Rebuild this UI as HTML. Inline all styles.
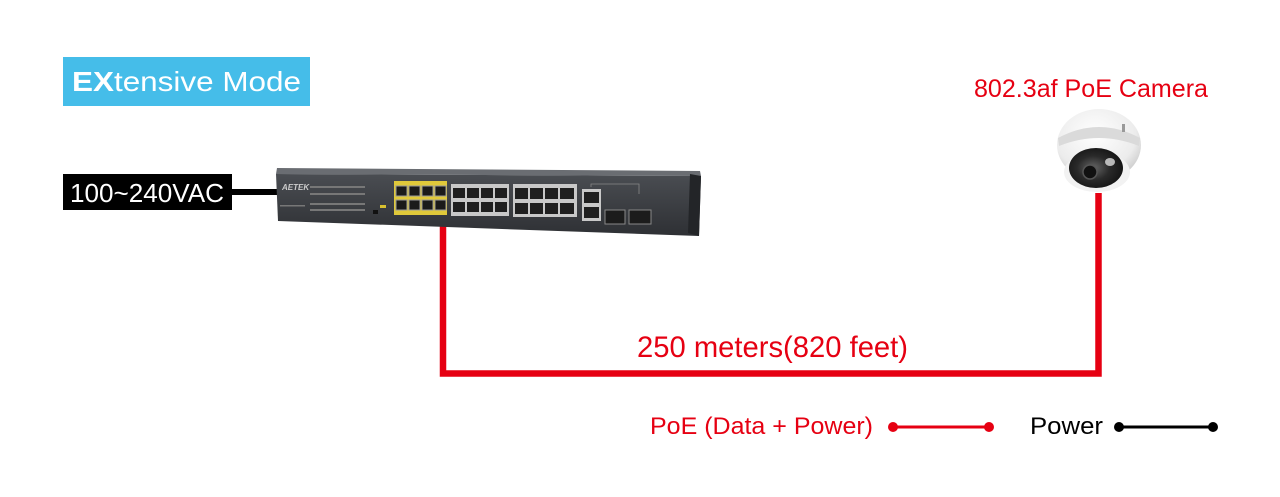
<!DOCTYPE html>
<html><head><meta charset="utf-8"><style>
html,body{margin:0;padding:0;background:#fff;}
svg{display:block;}
text{font-family:"Liberation Sans",Arial,sans-serif;}
</style></head><body>
<svg width="1280" height="497" viewBox="0 0 1280 497" xmlns="http://www.w3.org/2000/svg">
<defs>
<linearGradient id="sw" x1="0" y1="0" x2="0" y2="1">
<stop offset="0" stop-color="#4a4d52"/><stop offset="1" stop-color="#2e3034"/>
</linearGradient>
<radialGradient id="dome" cx="0.45" cy="0.35" r="0.7">
<stop offset="0" stop-color="#ffffff"/><stop offset="0.7" stop-color="#ececec"/><stop offset="1" stop-color="#c4c4c4"/>
</radialGradient>
<radialGradient id="lens" cx="0.45" cy="0.5" r="0.6">
<stop offset="0" stop-color="#666"/><stop offset="0.5" stop-color="#2a2a2a"/><stop offset="1" stop-color="#111"/>
</radialGradient>
</defs>

<rect x="63" y="57" width="247" height="49" fill="#45bde9"/>
<text x="72" y="91" font-size="28" fill="#fff" textLength="229" lengthAdjust="spacingAndGlyphs"><tspan font-weight="bold">EX</tspan>tensive Mode</text>

<rect x="63" y="174" width="169" height="36" fill="#000"/>
<text x="70" y="202" font-size="26" fill="#fff" textLength="154" lengthAdjust="spacingAndGlyphs">100~240VAC</text>
<rect x="231" y="189" width="48" height="6" fill="#000"/>

<path d="M443 222 V373.5 H1098.5 V193" fill="none" stroke="#e60012" stroke-width="6.5"/>

<polygon points="277,168 700,171 701,176 276,174" fill="#6a6d72"/>
<polygon points="276,174 701,176 699,236 278,221" fill="url(#sw)"/>
<polygon points="690,174 701,176 699,236 688,233" fill="#232528"/>
<text x="282" y="190" font-size="8" fill="#ccc" font-style="italic" font-weight="bold">AETEK</text>
<g fill="#777">
<rect x="310" y="186" width="55" height="2"/><rect x="310" y="193" width="55" height="2"/>
<rect x="310" y="203" width="55" height="2"/><rect x="310" y="209" width="55" height="2"/>
<rect x="280" y="205" width="25" height="1.5"/>
</g>
<rect x="380" y="205" width="6" height="3" fill="#d8c030"/>
<rect x="373" y="210" width="5" height="4" fill="#111"/>
<rect x="394" y="181" width="53" height="34" fill="#e0c93a"/>
<g fill="#1a1a1a" stroke="#999" stroke-width="1">
<rect x="396" y="186" width="11" height="10"/><rect x="409" y="186" width="11" height="10"/><rect x="422" y="186" width="11" height="10"/><rect x="435" y="186" width="11" height="10"/>
<rect x="396" y="200" width="11" height="10"/><rect x="409" y="200" width="11" height="10"/><rect x="422" y="200" width="11" height="10"/><rect x="435" y="200" width="11" height="10"/>
</g>
<rect x="451" y="184" width="58" height="32" fill="#c8c8c8"/>
<rect x="513" y="184" width="64" height="33" fill="#c8c8c8"/>
<g fill="#1f1f1f">
<rect x="453" y="188" width="12" height="10"/><rect x="467" y="188" width="12" height="10"/><rect x="481" y="188" width="12" height="10"/><rect x="495" y="188" width="12" height="10"/>
<rect x="453" y="202" width="12" height="10"/><rect x="467" y="202" width="12" height="10"/><rect x="481" y="202" width="12" height="10"/><rect x="495" y="202" width="12" height="10"/>
<rect x="515" y="188" width="13" height="11"/><rect x="530" y="188" width="13" height="11"/><rect x="545" y="188" width="13" height="11"/><rect x="560" y="188" width="14" height="11"/>
<rect x="515" y="203" width="13" height="11"/><rect x="530" y="203" width="13" height="11"/><rect x="545" y="203" width="13" height="11"/><rect x="560" y="203" width="14" height="11"/>
</g>
<rect x="582" y="189" width="19" height="32" fill="#c8c8c8"/>
<rect x="584" y="192" width="15" height="11" fill="#1f1f1f"/><rect x="584" y="207" width="15" height="11" fill="#1f1f1f"/>
<rect x="605" y="210" width="20" height="14" fill="#1c1c1c" stroke="#888" stroke-width="1"/>
<rect x="629" y="210" width="22" height="14" fill="#1c1c1c" stroke="#888" stroke-width="1"/>
<path d="M591 187 V184 H639 V194" fill="none" stroke="#888" stroke-width="0.8"/>

<!-- Camera -->
<ellipse cx="1099" cy="145" rx="42" ry="36" fill="url(#dome)"/>
<ellipse cx="1097" cy="172" rx="33" ry="20" fill="#f2f2f2"/>
<path d="M1058 138 Q1099 116 1140 138 L1139 146 Q1099 130 1059 146 Z" fill="#dadada"/>
<ellipse cx="1096" cy="168" rx="27" ry="20" fill="url(#lens)"/>
<circle cx="1090" cy="172" r="7" fill="#111" stroke="#555" stroke-width="1.5"/>
<ellipse cx="1110" cy="162" rx="5" ry="4" fill="#ddd" opacity="0.8"/>
<rect x="1122" y="124" width="3" height="8" fill="#999"/>

<text x="974" y="97" font-size="25" fill="#e60012" textLength="234" lengthAdjust="spacingAndGlyphs">802.3af PoE Camera</text>
<text x="637" y="357" font-size="30" fill="#e60012" textLength="271" lengthAdjust="spacingAndGlyphs">250 meters(820 feet)</text>

<text x="650" y="434" font-size="24" fill="#e60012" textLength="223" lengthAdjust="spacingAndGlyphs">PoE (Data + Power)</text>
<line x1="893" y1="427" x2="989" y2="427" stroke="#e60012" stroke-width="3"/>
<circle cx="893" cy="427" r="5" fill="#e60012"/><circle cx="989" cy="427" r="5" fill="#e60012"/>
<text x="1030" y="434" font-size="24" fill="#000" textLength="73" lengthAdjust="spacingAndGlyphs">Power</text>
<line x1="1119" y1="427" x2="1213" y2="427" stroke="#000" stroke-width="3"/>
<circle cx="1119" cy="427" r="5" fill="#000"/><circle cx="1213" cy="427" r="5" fill="#000"/>
</svg>
</body></html>
